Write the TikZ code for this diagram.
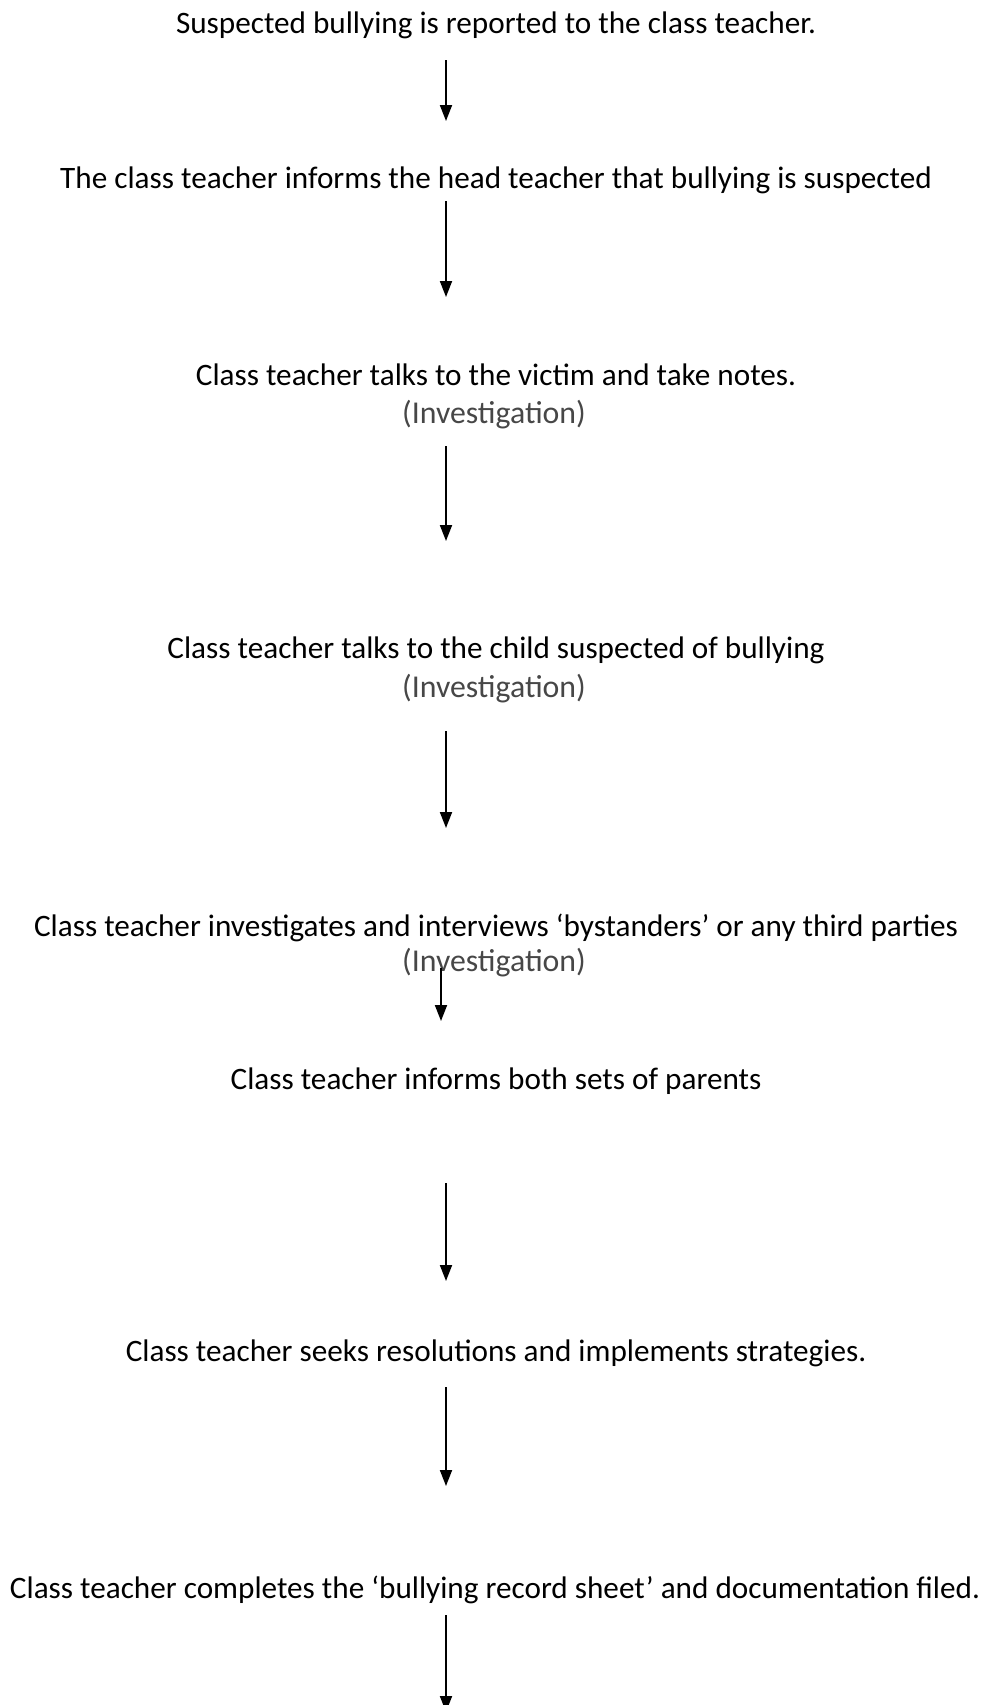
\documentclass[tikz,border=0pt]{standalone}
\usepackage{fontspec}
\setmainfont{Carlito}
\usetikzlibrary{arrows.meta}
\tikzset{
    stepbox/.style={inner sep = 0, anchor=center, font=\fontsize{15.6}{18}\selectfont},
    notebox/.style={inner sep = 0, anchor=center, font=\fontsize{15.9}{18}\selectfont, text=black!72},
    arr/.style={line width=0.9pt, -{Triangle[length=8pt, width=6pt]}},
}
\begin{document}
\begin{tikzpicture}[x=0.5pt, y=-0.5pt]
        \useasboundingbox (0,0) rectangle (984,1705);
        % Steps
        \node[stepbox] (S1) at (496,25) {Suspected bullying is reported to the class teacher.};
        \node[stepbox] (S2) at (496,180) {The class teacher informs the head teacher that bullying is suspected};
        \node[stepbox] (S3) at (496,375) {Class teacher talks to the victim and take notes.};
        \node[notebox] (N3) at (494,415) {(Investigation)};
        \node[stepbox] (S4) at (496,650) {Class teacher talks to the child suspected of bullying};
        \node[notebox] (N4) at (494,689) {(Investigation)};
        \node[stepbox] (S5) at (496,928) {Class teacher investigates and interviews ‘bystanders’ or any third parties};
        \node[notebox] (N5) at (494,963) {(Investigation)};
        \node[stepbox] (S6) at (496,1081) {Class teacher informs both sets of parents};
        \node[stepbox] (S7) at (496,1353) {Class teacher seeks resolutions and implements strategies.};
        \node[stepbox] (S8) at (495,1590) {Class teacher completes the ‘bullying record sheet’ and documentation filed.};
        %
        % Arrow ends
        \coordinate (A1s) at (446,60);   \coordinate (A1e) at (446,121);
        \coordinate (A2s) at (446,201);  \coordinate (A2e) at (446,297);
        \coordinate (A3s) at (446,446);  \coordinate (A3e) at (446,541);
        \coordinate (A4s) at (446,731);  \coordinate (A4e) at (446,828);
        \coordinate (A5s) at (441,968);  \coordinate (A5e) at (441,1021);
        \coordinate (A6s) at (446,1183); \coordinate (A6e) at (446,1281);
        \coordinate (A7s) at (446,1387); \coordinate (A7e) at (446,1486);
        \coordinate (A8s) at (446,1615); \coordinate (A8e) at (446,1712);
        %
        \foreach \i in {1,...,8}
            \draw[arr] (A\i s) -- (A\i e);
    \end{tikzpicture}
\end{document}
